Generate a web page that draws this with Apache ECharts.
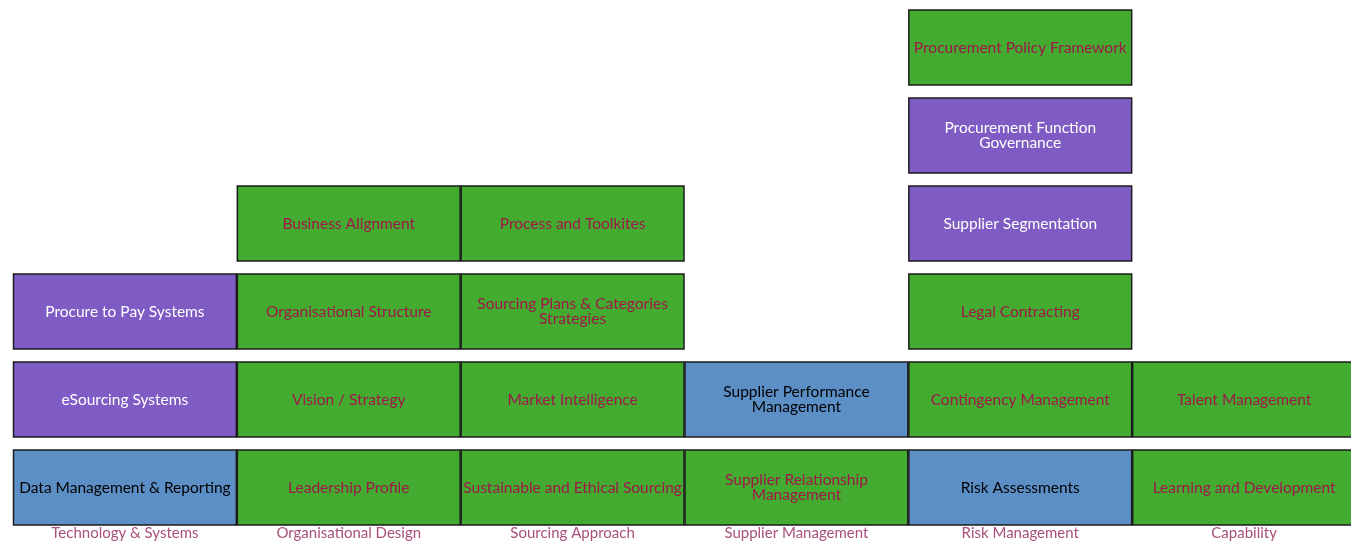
<!DOCTYPE html>
<html>
<head>
<meta charset="utf-8">
<script src="https://cdn.jsdelivr.net/npm/echarts@6/dist/echarts.min.js"></script>
<style>
  html, body { margin: 0; padding: 0; background: #fff; overflow: hidden; }
  #chart { width: 1356px; height: 551px; }
</style>
</head>
<body>
<div id="chart"></div>
<script>
// columns of the maturity grid
const categories = ['Technology & Systems', 'Organisational Design', 'Sourcing Approach',
  'Supplier Management', 'Risk Management', 'Capability']

// items per column, bottom to top
const technologySystems = ['Data Management & Reporting', 'eSourcing Systems', 'Procure to Pay Systems']
const organisationalDesign = ['Leadership Profile', 'Vision / Strategy', 'Organisational Structure', 'Business Alignment']
const sourcingApproach = ['Sustainable and Ethical Sourcing', 'Market Intelligence',
  'Sourcing Plans & Categories\nStrategies', 'Process and Toolkites']
const supplierManagement = ['Supplier Relationship\nManagement', 'Supplier Performance\nManagement']
const riskManagement = ['Risk Assessments', 'Contingency Management', 'Legal Contracting',
  'Supplier Segmentation', 'Procurement Function\nGovernance', 'Procurement Policy Framework']
const capability = ['Learning and Development', 'Talent Management']

// status per item (g = green, p = purple, b = blue)
const technologyStatus = ['b', 'p', 'p']
const organisationalStatus = ['g', 'g', 'g', 'g']
const sourcingStatus = ['g', 'g', 'g', 'g']
const supplierStatus = ['g', 'b']
const riskStatus = ['b', 'g', 'g', 'p', 'p', 'g']
const capabilityStatus = ['g', 'g']

const columns = [technologySystems, organisationalDesign, sourcingApproach, supplierManagement, riskManagement, capability]
const statuses = [technologyStatus, organisationalStatus, sourcingStatus, supplierStatus, riskStatus, capabilityStatus]

const fills = { g: '#43ab2f', p: '#7e5cc4', b: '#5b8fc6' }
const textColors = { g: '#a0174a', p: '#ffffff', b: '#000000' }

const boxShare = 75 / 88 // box height within each row band

const data = []
columns.forEach(function (col, c) {
  col.forEach(function (name, r) {
    data.push([c, r, name, statuses[c][r]])
  })
})

const chart = echarts.init(document.getElementById('chart'))
chart.setOption({
  animation: false,
  grid: {
    top: 10,
    left: 13,
    right: 0,
    bottom: 26
  },
  xAxis: {
    type: 'category',
    data: categories,
    axisLine: { show: false },
    axisTick: { show: false },
    axisLabel: {
      color: '#a8507a',
      fontFamily: 'Lato',
      fontSize: 15,
      margin: 1
    }
  },
  yAxis: {
    type: 'value',
    min: 0,
    max: 5 + boxShare,
    show: false,
    splitLine: { show: false }
  },
  series: [{
    type: 'custom',
    data: data,
    renderItem: function (params, api) {
      const c = api.value(0)
      const r = api.value(1)
      const status = data[params.dataIndex][3]
      const center = api.coord([c, r])
      const bandWidth = api.size([1, 0])[0]
      const bottom = center[1]
      const top = api.coord([c, r + boxShare])[1]
      return {
        type: 'rect',
        shape: {
          x: center[0] - bandWidth / 2 + 0.5,
          y: top,
          width: bandWidth - 1,
          height: bottom - top
        },
        style: {
          fill: fills[status],
          stroke: '#1c1c1c',
          lineWidth: 1.5
        },
        textContent: {
          style: {
            text: data[params.dataIndex][2],
            fill: textColors[status],
            fontFamily: 'Lato',
            fontSize: 15.5,
            lineHeight: 15,
            align: 'center'
          }
        },
        textConfig: { position: 'inside' }
      }
    }
  }]
})
</script>
</body>
</html>
